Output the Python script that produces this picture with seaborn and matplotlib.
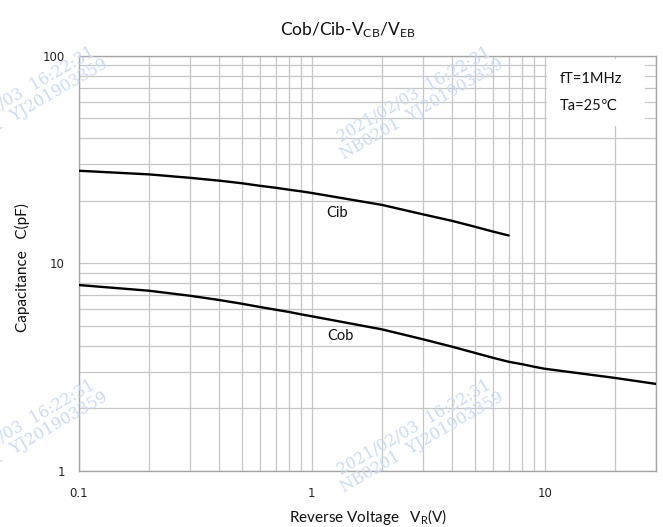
import numpy as np
import pandas as pd
import matplotlib
matplotlib.use("Agg")
import matplotlib.pyplot as plt
from matplotlib.patches import Rectangle
from matplotlib.ticker import LogLocator, FixedLocator, FixedFormatter, NullFormatter
import seaborn as sns

# ---- data ----
cib_v = [0.1, 0.2, 0.3, 0.4, 0.5, 0.6, 0.7, 0.8, 0.9, 1.0, 2.0, 3.0, 4.0, 5.0, 6.0, 7.0]
cib_c = [27.9, 26.8, 25.8, 25.0, 24.3, 23.6, 23.1, 22.6, 22.2, 21.8,
         19.1, 17.2, 16.0, 15.0, 14.2, 13.6]
cob_v = [0.1, 0.2, 0.3, 0.4, 0.5, 0.6, 0.7, 0.8, 0.9, 1.0,
         2.0, 3.0, 4.0, 5.0, 6.0, 7.0, 8.0, 9.0, 10.0, 20.0, 30.0]
cob_c = [7.85, 7.37, 6.97, 6.65, 6.38, 6.15, 5.97, 5.82, 5.67, 5.55,
         4.80, 4.30, 3.96, 3.70, 3.50, 3.35, 3.26, 3.17, 3.10, 2.80, 2.62]
series_names = ["Cib", "Cob"]
x_ticks = [0.1, 1, 10]
x_tick_labels = ["0.1", "1", "10"]
y_ticks = [1, 10, 100]
y_tick_labels = ["1", "10", "100"]
cond_lines = ["fT=1MHz", "Ta=25\u2103"]
label_pos = {"Cib": (1.28, 17.5), "Cob": (1.33, 4.47)}
watermark = "2021/02/03  16:22:31\nNB0201  YJ201903359"

df = pd.concat([
    pd.DataFrame({"V": cib_v, "C": cib_c, "series": "Cib"}),
    pd.DataFrame({"V": cob_v, "C": cob_c, "series": "Cob"}),
])

sns.set_theme(style="white")
plt.rcParams["font.family"] = ["Lato", "DejaVu Sans"]
plt.rcParams["mathtext.fontset"] = "custom"
plt.rcParams["mathtext.rm"] = "Lato"
plt.rcParams["mathtext.it"] = "Lato"
plt.rcParams["mathtext.default"] = "regular"

fig = plt.figure(figsize=(6.63, 5.27), dpi=100)
ax = fig.add_axes([0.1187, 0.1068, 0.9894 - 0.1187, 0.8943 - 0.1068])

sns.lineplot(data=df, x="V", y="C", hue="series", palette=["black", "black"],
             linewidth=1.7, legend=False, ax=ax, sort=True, zorder=4)

ax.set_xscale("log")
ax.set_yscale("log")
ax.set_xlim(0.1, 30)
ax.set_ylim(1, 100)

ax.xaxis.set_major_locator(FixedLocator(x_ticks))
ax.xaxis.set_major_formatter(FixedFormatter(x_tick_labels))
ax.yaxis.set_major_locator(FixedLocator(y_ticks))
ax.yaxis.set_major_formatter(FixedFormatter(y_tick_labels))
ax.xaxis.set_minor_locator(LogLocator(base=10, subs=np.arange(2, 10)))
ax.yaxis.set_minor_locator(LogLocator(base=10, subs=np.arange(2, 10)))
ax.xaxis.set_minor_formatter(NullFormatter())
ax.yaxis.set_minor_formatter(NullFormatter())

ax.grid(True, which="both", color="#c6c6c6", linewidth=0.9, zorder=1)
ax.set_axisbelow(True)
for s in ax.spines.values():
    s.set_color("#a6a6a6")
    s.set_linewidth(1.0)

ax.tick_params(axis="both", which="both", length=0)
ax.tick_params(axis="x", which="major", pad=12, labelsize=8.5, labelcolor="#222222")
ax.tick_params(axis="y", which="major", pad=10, labelsize=8.5, labelcolor="#222222")
for lab in ax.get_xticklabels() + ax.get_yticklabels():
    lab.set_family("DejaVu Sans")

ax.set_xlabel("Reverse Voltage   V$_{R}$(V)", fontsize=11, color="#111111", va="center")
ax.set_ylabel("Capacitance   C(pF)", fontsize=11, color="#111111", va="center")
ax.xaxis.set_label_coords(0.502, -0.1116)
ax.yaxis.set_label_coords(-0.098, 0.49)

fig.text(0.525, 0.943, "Cob/Cib-V$_{CB}$/V$_{EB}$", ha="center", va="center",
         fontsize=12.5, color="#111111")

# curve labels
for name in series_names:
    x, y = label_pos[name]
    ax.text(x, y, name, ha="center", va="center", fontsize=10.5, color="#111111", zorder=5)

# conditions box
ax.add_patch(Rectangle((0.811, 0.831), 0.170, 0.160, transform=ax.transAxes,
                       facecolor="white", edgecolor="none", zorder=3))
ax.text(0.834, 0.943, cond_lines[0], transform=ax.transAxes, ha="left", va="center",
        fontsize=10.5, color="#111111", zorder=5, family=["Lato", "DejaVu Sans"])
ax.text(0.834, 0.878, cond_lines[1], transform=ax.transAxes, ha="left", va="center",
        fontsize=10.5, color="#111111", zorder=5, family=["Lato", "DejaVu Sans"])

# watermarks
for (px, py) in [(22, 102), (418, 102), (22, 435), (418, 435)]:
    fig.text(px / 663, 1 - py / 527, watermark, rotation=30, ha="center", va="center",
             multialignment="center", fontsize=11.5, color="#ccdaf2",
             family="DejaVu Serif", zorder=10, linespacing=1.0)

fig.savefig("out.png", dpi=100)
